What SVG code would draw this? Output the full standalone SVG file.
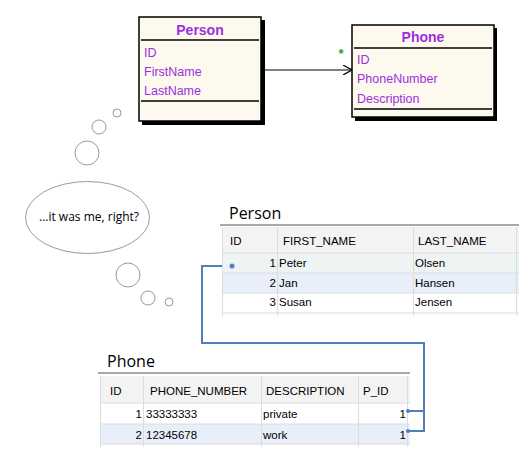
<svg xmlns="http://www.w3.org/2000/svg" width="529" height="467" viewBox="0 0 529 467">
<defs>
<style>
.box{fill:#fdf9ee;stroke:#000;stroke-width:1.5}
.shadow{fill:#000}
.sep{stroke:#000;stroke-width:1.5}
.ttl{font-family:"Liberation Sans",Arial,sans-serif;font-size:14px;font-weight:bold;fill:#9b30e0;text-anchor:middle}
.fld{font-family:"Liberation Sans",Arial,sans-serif;font-size:12.5px;fill:#9b30e0}
.bub{fill:#fff;stroke:#9a9a9a;stroke-width:1}
.btxt{font-family:"Open Sans","Liberation Sans",sans-serif;font-size:12px;fill:#000;text-anchor:middle}
.tname{font-family:"Open Sans","Liberation Sans",sans-serif;font-size:16px;fill:#000}
.th{fill:#f3f3f3}
.grid{stroke:#dcdcdc;stroke-width:1}
.top{stroke:#a8a8a8;stroke-width:2}
.cell{font-family:"Liberation Sans",Arial,sans-serif;font-size:11.5px;fill:#000}
.num{text-anchor:end}
.sel{fill:#eef3f3}
.alt{fill:#e8effa}
.link{fill:none;stroke:#4f7fc0;stroke-width:2}
.dot{fill:#4f7fc0}
</style>
<marker id="open" viewBox="0 0 10 10" refX="9" refY="5" markerWidth="10" markerHeight="10" markerUnits="userSpaceOnUse" orient="auto">
<path d="M0,0 L9,5 L0,10" fill="none" stroke="#000" stroke-width="1.2"/>
</marker>
</defs>

<g id="connectors">
<line x1="262" y1="70" x2="352" y2="70" stroke="#000" stroke-width="1.2" marker-end="url(#open)"/>
<text x="341" y="58" font-family="Liberation Sans,Arial,sans-serif" font-size="13" font-weight="bold" fill="#2a9a2a" text-anchor="middle">*</text>
</g>

<g id="uml-person">
<rect class="shadow" x="142" y="20" width="123" height="105"/>
<rect class="box" x="139" y="17" width="122" height="104"/>
<text class="ttl" x="200" y="35">Person</text>
<line class="sep" x1="141" y1="40" x2="259" y2="40"/>
<text class="fld" x="144" y="57">ID</text>
<text class="fld" x="144" y="76">FirstName</text>
<text class="fld" x="144" y="95">LastName</text>
<line class="sep" x1="141" y1="101" x2="259" y2="101"/>
</g>

<g id="uml-phone">
<rect class="shadow" x="355" y="28" width="142" height="93"/>
<rect class="box" x="352" y="25" width="142" height="92"/>
<text class="ttl" x="423" y="42">Phone</text>
<line class="sep" x1="354" y1="48" x2="492" y2="48"/>
<text class="fld" x="357" y="64">ID</text>
<text class="fld" x="357" y="83">PhoneNumber</text>
<text class="fld" x="357" y="103">Description</text>
<line class="sep" x1="354" y1="109" x2="492" y2="109"/>
</g>

<g id="thought">
<circle class="bub" cx="117" cy="113" r="4"/>
<circle class="bub" cx="99" cy="127" r="7"/>
<circle class="bub" cx="87" cy="153" r="12"/>
<ellipse class="bub" cx="87.5" cy="217.5" rx="62" ry="36"/>
<text class="btxt" x="89" y="221">...it was me, right?</text>
<circle class="bub" cx="128" cy="275" r="12"/>
<circle class="bub" cx="148" cy="298" r="7"/>
<circle class="bub" cx="169" cy="302" r="4"/>
</g>

<g id="table-person">
<text class="tname" x="229" y="219">Person</text>
<rect class="th" x="222" y="227" width="297" height="26"/>
<rect class="sel" x="222" y="253" width="297" height="20"/>
<rect class="alt" x="222" y="273" width="297" height="20"/>
<rect fill="#fff" x="222" y="293" width="297" height="20"/>
<line class="top" x1="220" y1="225" x2="519" y2="225"/>
<line class="grid" x1="222" y1="253" x2="519" y2="253"/>
<line class="grid" x1="222" y1="273" x2="519" y2="273"/>
<line class="grid" x1="222" y1="293" x2="519" y2="293"/>
<line class="grid" x1="222" y1="313" x2="519" y2="313"/>
<line class="grid" x1="222.5" y1="227" x2="222.5" y2="316"/>
<line class="grid" x1="277.5" y1="227" x2="277.5" y2="316"/>
<line class="grid" x1="413.5" y1="227" x2="413.5" y2="316"/>
<line class="grid" x1="516.5" y1="227" x2="516.5" y2="316"/>
<text class="cell" x="230" y="245">ID</text>
<text class="cell" x="283" y="245">FIRST_NAME</text>
<text class="cell" x="418" y="245">LAST_NAME</text>
<text class="cell num" x="276" y="267">1</text>
<text class="cell" x="279" y="267">Peter</text>
<text class="cell" x="415" y="267">Olsen</text>
<text class="cell num" x="276" y="287">2</text>
<text class="cell" x="279" y="287">Jan</text>
<text class="cell" x="415" y="287">Hansen</text>
<text class="cell num" x="276" y="306">3</text>
<text class="cell" x="279" y="306">Susan</text>
<text class="cell" x="415" y="306">Jensen</text>
<circle class="dot" cx="232" cy="266" r="2.5"/>
</g>

<g id="table-phone">
<text class="tname" x="107" y="367">Phone</text>
<rect class="th" x="100" y="376" width="310" height="27"/>
<rect fill="#fff" x="100" y="403" width="310" height="21"/>
<rect class="alt" x="100" y="424" width="310" height="20"/>
<line class="top" x1="98" y1="373" x2="410" y2="373"/>
<line class="grid" x1="100" y1="403" x2="410" y2="403"/>
<line class="grid" x1="100" y1="424" x2="410" y2="424"/>
<line class="grid" x1="100" y1="444" x2="410" y2="444"/>
<line class="grid" x1="100.5" y1="376" x2="100.5" y2="447"/>
<line class="grid" x1="143.5" y1="376" x2="143.5" y2="447"/>
<line class="grid" x1="261.5" y1="376" x2="261.5" y2="447"/>
<line class="grid" x1="358.5" y1="376" x2="358.5" y2="447"/>
<line class="grid" x1="407.5" y1="376" x2="407.5" y2="447"/>
<text class="cell" x="110" y="395">ID</text>
<text class="cell" x="150" y="395">PHONE_NUMBER</text>
<text class="cell" x="266" y="395">DESCRIPTION</text>
<text class="cell" x="363" y="395">P_ID</text>
<text class="cell num" x="142" y="418">1</text>
<text class="cell" x="146" y="418">33333333</text>
<text class="cell" x="263" y="418">private</text>
<text class="cell num" x="406" y="418">1</text>
<text class="cell num" x="142" y="439">2</text>
<text class="cell" x="146" y="439">12345678</text>
<text class="cell" x="263" y="439">work</text>
<text class="cell num" x="406" y="439">1</text>
<circle class="dot" cx="408" cy="411" r="2"/>
<circle class="dot" cx="408" cy="431" r="2"/>
</g>

<g id="fk-link">
<polyline class="link" points="222,266 202,266 202,343 424,343 424,431 408,431"/>
<line class="link" x1="408" y1="411" x2="424" y2="411"/>
</g>
</svg>
